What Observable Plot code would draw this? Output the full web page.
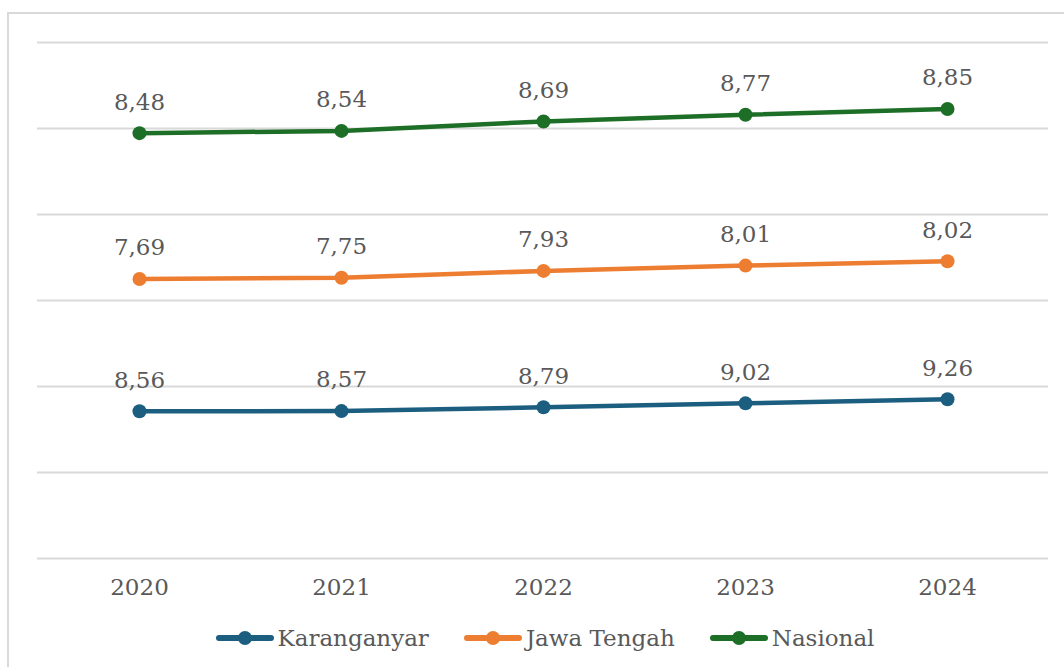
<!DOCTYPE html>
<html>
<head>
<meta charset="utf-8">
<script src="https://cdn.jsdelivr.net/npm/d3@7"></script>
<script src="https://cdn.jsdelivr.net/npm/@observablehq/plot@0.6"></script>
<style>
  html, body { margin: 0; padding: 0; background: #fff; }
  #wrap { position: relative; width: 1064px; height: 667px; overflow: hidden; font-family: "DejaVu Serif", serif; }
  #frame { position: absolute; left: 7px; top: 12px; width: 1100px; height: 700px; border-left: 2px solid #d9d9d9; border-top: 2px solid #d9d9d9; box-sizing: border-box; }
  #chart { position: absolute; left: 0; top: 0; }
  #legend { position: absolute; left: 0; top: 625px; width: 1064px; display: flex; justify-content: center; padding-left: 26px; box-sizing: border-box; gap: 35px; font-size: 23px; color: #595959; }
  .item { display: flex; align-items: center; }
  .item svg { margin-right: 4px; }
</style>
</head>
<body>
<div id="wrap">
  <div id="frame"></div>
  <div id="chart"></div>
  <div id="legend"></div>
</div>
<script>
const years = ["2020", "2021", "2022", "2023", "2024"];
const seriesNames = ["Karanganyar", "Jawa Tengah", "Nasional"];
const karanganyar = [8.56, 8.57, 8.79, 9.02, 9.26];
const jawaTengah = [7.69, 7.75, 7.93, 8.01, 8.02];
const nasional = [8.48, 8.54, 8.69, 8.77, 8.85];
const colors = ["#1b5e80", "#ed7d31", "#1d6e27"];
const gridTicks = [0, 5, 10, 15, 20, 25, 30];

// Stacked line chart: each series drawn on top of the previous one
const seriesValues = [karanganyar, jawaTengah, nasional];
const table = [];
years.forEach((yr, i) => {
  let cum = 0;
  seriesValues.forEach((vals, s) => {
    cum += vals[i];
    table.push({ year: yr, series: seriesNames[s], value: vals[i], stacked: cum });
  });
});

const fmt = v => v.toFixed(2).replace(".", ",");

const chart = Plot.plot({
  width: 1064,
  height: 610,
  marginLeft: 37,
  marginRight: 16,
  marginTop: 42,
  marginBottom: 52,
  style: { fontFamily: "DejaVu Serif, serif", color: "#595959", background: "transparent" },
  x: { type: "point", domain: years, padding: 0.5, label: null, axis: null },
  y: { domain: [0, 30], axis: null, label: null },
  color: { domain: seriesNames, range: colors },
  marks: [
    Plot.ruleY(gridTicks, { stroke: "#d9d9d9", strokeWidth: 2 }),
    Plot.axisX({ tickSize: 0, tickPadding: 20, fontSize: 23, fill: "#595959", label: null }),
    Plot.line(table, { x: "year", y: "stacked", z: "series", stroke: "series", strokeWidth: 4.5, strokeLinecap: "round" }),
    Plot.dot(table, { x: "year", y: "stacked", fill: "series", r: 7 }),
    Plot.text(table, { x: "year", y: "stacked", text: d => fmt(d.value), dy: -31, fontSize: 23, fill: "#595959" })
  ]
});
document.getElementById("chart").appendChild(chart);

const legend = document.getElementById("legend");
seriesNames.forEach((name, i) => {
  const item = document.createElement("div");
  item.className = "item";
  item.innerHTML = `<svg width="58" height="20"><line x1="3" y1="10" x2="55" y2="10" stroke="${colors[i]}" stroke-width="6" stroke-linecap="round"/><circle cx="29" cy="10" r="7" fill="${colors[i]}"/></svg><span>${name}</span>`;
  legend.appendChild(item);
});
</script>
</body>
</html>
